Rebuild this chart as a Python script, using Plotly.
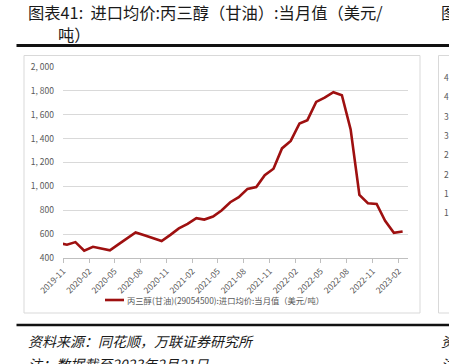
import plotly.graph_objects as go

# ---- data (monthly import average price, USD/ton) ----
months = [
    "2019-10", "2019-11", "2019-12", "2020-01", "2020-02", "2020-03", "2020-04", "2020-05",
    "2020-06", "2020-07", "2020-08", "2020-09", "2020-10", "2020-11", "2020-12",
    "2021-01", "2021-02", "2021-03", "2021-04", "2021-05", "2021-06", "2021-07",
    "2021-08", "2021-09", "2021-10", "2021-11", "2021-12", "2022-01", "2022-02",
    "2022-03", "2022-04", "2022-05", "2022-06", "2022-07", "2022-08", "2022-09",
    "2022-10", "2022-11", "2022-12", "2023-01", "2023-02",
]
values = [
    526, 511, 533, 461, 494, 478, 464, 514,
    564, 614, 590, 566, 542, 594, 648,
    686, 734, 722, 747, 798, 867, 909,
    979, 995, 1093, 1148, 1318, 1381, 1527,
    1555, 1708, 1744, 1789, 1764, 1477, 928,
    859, 853, 711, 611, 622,
]
y_ticks = [400, 600, 800, 1000, 1200, 1400, 1600, 1800, 2000]
y_tick_text = ["400", "600", "800", "1, 000", "1, 200", "1, 400", "1, 600", "1, 800", "2, 000"]

series_name = "丙三醇(甘油)(29054500):进口均价:当月值（美元/吨）"
title_line1 = "图表41:  进口均价:丙三醇（甘油）:当月值（美元/"
title_line2 = "吨）"
source_text = "资料来源：同花顺，万联证券研究所"
note_text = "注：数据截至2023年2月21日"
neighbor_ticks = ["4", "4", "3", "3", "2", "2", "1", "1"]

# ---- geometry helpers ----
W, H = 449, 364
ML, MR, MT, MB = 63, 41, 67, 106
PW, PH = W - ML - MR, H - MT - MB


def xp(px):
    return (px - ML) / PW


def yp(py):
    return (H - MB - py) / PH


dates = [m + "-15" for m in months]
LINE_COLOR = "#9E1010"
GRAY = "#595959"
FONT = "Noto Sans CJK SC"

fig = go.Figure()
fig.add_trace(go.Scatter(
    x=dates, y=values, mode="lines", name=series_name,
    line=dict(color=LINE_COLOR, width=2.6),
    showlegend=False, hoverinfo="x+y",
))

fig.update_layout(
    width=W, height=H,
    margin=dict(l=ML, r=MR, t=MT, b=MB, pad=0),
    paper_bgcolor="white", plot_bgcolor="white",
    font=dict(family=FONT, color=GRAY, size=9),
    xaxis=dict(
        type="date", range=["2019-11-01", "2023-03-06"],
        tick0="2019-11-01", dtick="M3", tickformat="%Y-%m",
        tickangle=-45, tickfont=dict(size=8.5, color=GRAY, family=FONT),
        showgrid=False, showline=True, linecolor="#bfbfbf", linewidth=1,
        ticks="outside", ticklen=4, tickcolor="#bfbfbf", zeroline=False,
    ),
    yaxis=dict(
        range=[400, 2000], tickvals=y_ticks, ticktext=y_tick_text,
        tickfont=dict(size=8.5, color=GRAY, family=FONT),
        showgrid=True, gridcolor="#d9d9d9", gridwidth=1,
        showline=False, zeroline=False, ticks="", ticklabelstandoff=8,
    ),
)

shapes = []
# chart frame
shapes.append(dict(type="rect", xref="paper", yref="paper",
                   x0=xp(24), x1=xp(420), y0=yp(313), y1=yp(55.5),
                   line=dict(color="#d9d9d9", width=1), fillcolor="rgba(0,0,0,0)", layer="below"))
# neighbouring chart frame (cut off at the right)
shapes.append(dict(type="rect", xref="paper", yref="paper",
                   x0=xp(438.5), x1=xp(470), y0=yp(313), y1=yp(55.5),
                   line=dict(color="#d9d9d9", width=1), fillcolor="rgba(0,0,0,0)", layer="below"))
# thick rules
shapes.append(dict(type="line", xref="paper", yref="paper",
                   x0=xp(16.5), x1=xp(452), y0=yp(45.5), y1=yp(45.5),
                   line=dict(color="#111111", width=3)))
shapes.append(dict(type="line", xref="paper", yref="paper",
                   x0=xp(16.5), x1=xp(452), y0=yp(325), y1=yp(325),
                   line=dict(color="#111111", width=2.5)))
# legend sample line
shapes.append(dict(type="line", xref="paper", yref="paper",
                   x0=xp(105), x1=xp(124), y0=yp(300), y1=yp(300),
                   line=dict(color=LINE_COLOR, width=2.6)))
fig.update_layout(shapes=shapes)

ann = []
ann.append(dict(text=title_line1, xref="paper", yref="paper", x=xp(26), y=yp(11.5),
                xanchor="left", yanchor="middle", showarrow=False,
                font=dict(family=FONT, size=16.3, color="#1a1a1a")))
ann.append(dict(text=title_line2, xref="paper", yref="paper", x=xp(56), y=yp(33.5),
                xanchor="left", yanchor="middle", showarrow=False,
                font=dict(family=FONT, size=16.3, color="#1a1a1a")))
ann.append(dict(text="图", xref="paper", yref="paper", x=xp(439), y=yp(11.5),
                xanchor="left", yanchor="middle", showarrow=False,
                font=dict(family=FONT, size=16, color="#1a1a1a")))
ann.append(dict(text=series_name, xref="paper", yref="paper", x=xp(125), y=yp(300),
                xanchor="left", yanchor="middle", showarrow=False,
                font=dict(family=FONT, size=8.3, color=GRAY)))
ann.append(dict(text="<i>" + source_text + "</i>", xref="paper", yref="paper", x=xp(26), y=yp(341),
                xanchor="left", yanchor="middle", showarrow=False,
                font=dict(family=FONT, size=14, color="#1a1a1a")))
ann.append(dict(text="<i>" + note_text + "</i>", xref="paper", yref="paper", x=xp(26), y=yp(364),
                xanchor="left", yanchor="middle", showarrow=False,
                font=dict(family=FONT, size=14, color="#1a1a1a")))
ann.append(dict(text="<i>资</i>", xref="paper", yref="paper", x=xp(439), y=yp(341),
                xanchor="left", yanchor="middle", showarrow=False,
                font=dict(family=FONT, size=14, color="#1a1a1a")))
ann.append(dict(text="<i>注</i>", xref="paper", yref="paper", x=xp(439), y=yp(364),
                xanchor="left", yanchor="middle", showarrow=False,
                font=dict(family=FONT, size=14, color="#1a1a1a")))
for i, t in enumerate(neighbor_ticks):
    ann.append(dict(text=t, xref="paper", yref="paper", x=xp(442), y=yp(77 + 19.3 * i),
                    xanchor="left", yanchor="middle", showarrow=False,
                    font=dict(family=FONT, size=8.5, color=GRAY)))
fig.update_layout(annotations=ann)

fig.write_html(
    "out.html",
    config={"displayModeBar": False},
    post_script="document.body.style.margin='0';document.body.style.overflow='hidden';",
)
